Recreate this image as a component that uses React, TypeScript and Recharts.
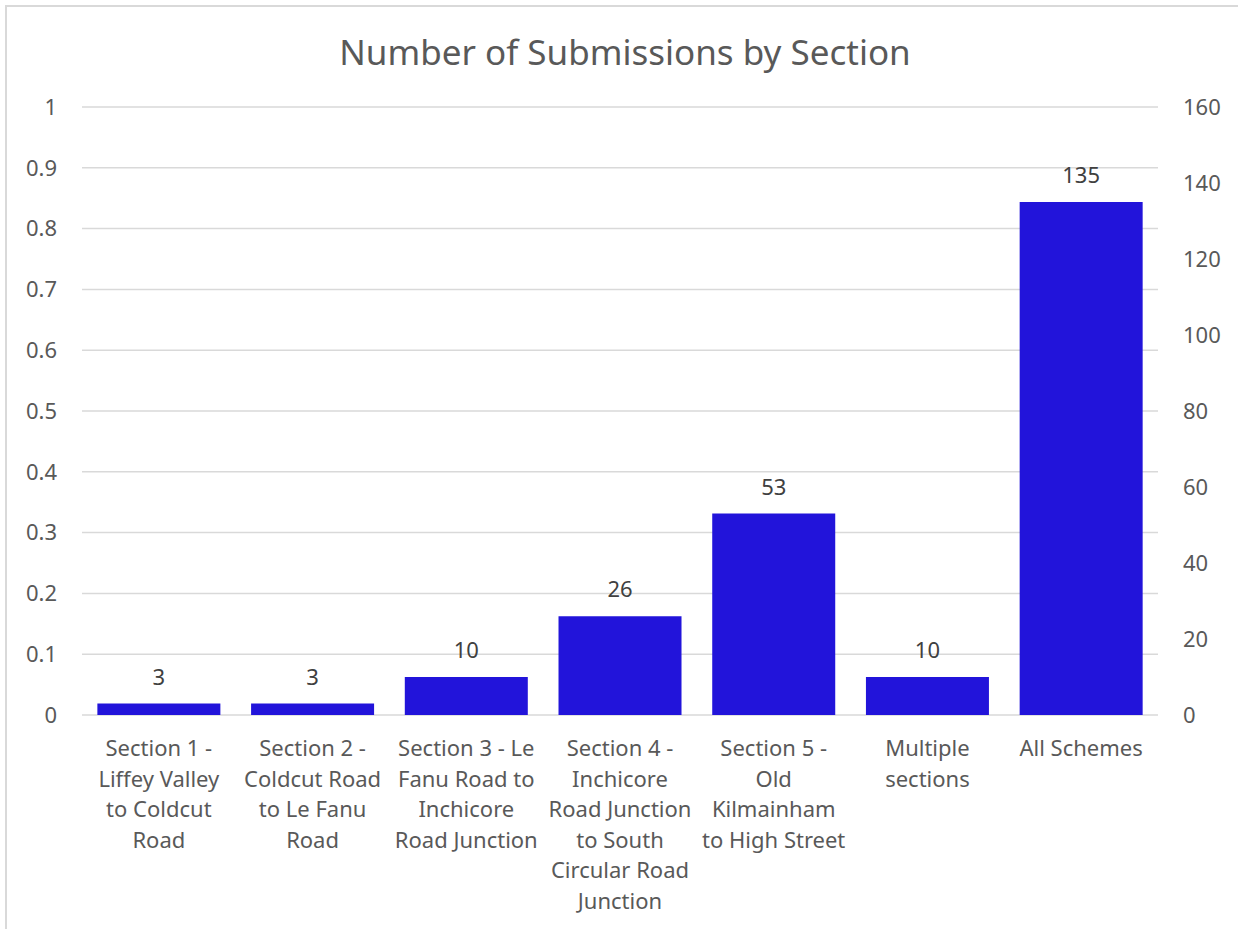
import React from "react";
import { BarChart, Bar, XAxis, YAxis, CartesianGrid, LabelList } from "recharts";

const sections = [
  "Section 1 -\nLiffey Valley\nto Coldcut\nRoad",
  "Section 2 -\nColdcut Road\nto Le Fanu\nRoad",
  "Section 3 - Le\nFanu Road to\nInchicore\nRoad Junction",
  "Section 4 -\nInchicore\nRoad Junction\nto South\nCircular Road\nJunction",
  "Section 5 -\nOld\nKilmainham\nto High Street",
  "Multiple\nsections",
  "All Schemes",
];
const submissions = [3, 3, 10, 26, 53, 10, 135];
const leftTicks = [0, 0.1, 0.2, 0.3, 0.4, 0.5, 0.6, 0.7, 0.8, 0.9, 1];
const rightTicks = [0, 20, 40, 60, 80, 100, 120, 140, 160];

const data = sections.map((s, i) => ({ section: s, count: submissions[i] }));

const FONT = "'Noto Sans', sans-serif";

function SectionTick({ x, y, payload }: any) {
  const lines = String(payload.value).split("\n");
  return (
    <text x={x} y={y} textAnchor="middle" fill="#595959" fontSize={22} fontFamily={FONT}>
      {lines.map((l, i) => (
        <tspan key={i} x={x} dy={i === 0 ? 41 : 30.5}>
          {l}
        </tspan>
      ))}
    </text>
  );
}

export default function App() {
  return (
    <div style={{ position: "fixed", left: 0, top: 0, width: 1238, height: 929, overflow: "hidden", background: "#fff" }}>
      <div
        style={{
          position: "absolute",
          left: 5,
          top: 5,
          width: 1250,
          height: 940,
          border: "2px solid #D9D9D9",
          boxSizing: "border-box",
        }}
      />
      <div
        style={{
          position: "absolute",
          left: 0,
          top: 29,
          width: 1250,
          textAlign: "center",
          fontFamily: FONT,
          fontSize: 35,
          color: "#595959",
          lineHeight: "46px",
        }}
      >
        Number of Submissions by Section
      </div>
      <div style={{ position: "absolute", left: 0, top: 0 }}>
        <BarChart
          width={1238}
          height={929}
          data={data}
          margin={{ top: 107, right: 20, bottom: 0, left: 22 }}
          barCategoryGap="10%"
        >
          <CartesianGrid yAxisId="left" vertical={false} stroke="#D9D9D9" strokeWidth={1.5} />
          <XAxis
            dataKey="section"
            height={214}
            axisLine={false}
            tickLine={false}
            tickSize={0}
            tickMargin={0}
            interval={0}
            tick={<SectionTick />}
          />
          <YAxis
            yAxisId="left"
            orientation="left"
            type="number"
            width={60}
            domain={[0, 1]}
            allowDataOverflow
            ticks={leftTicks}
            interval={0}
            axisLine={false}
            tickLine={false}
            tickSize={0}
            tickMargin={25}
            tick={{ fontSize: 22, fill: "#595959", fontFamily: FONT }}
          />
          <YAxis
            yAxisId="right"
            orientation="right"
            width={60}
            domain={[0, 160]}
            ticks={rightTicks}
            interval={0}
            axisLine={false}
            tickLine={false}
            tickSize={0}
            tickMargin={25}
            tick={{ fontSize: 22, fill: "#595959", fontFamily: FONT }}
          />
          <Bar yAxisId="right" dataKey="count" fill="#2214DA" isAnimationActive={false}>
            <LabelList
              dataKey="count"
              position="top"
              offset={19}
              fill="#404040"
              fontSize={22}
              fontFamily={FONT}
            />
          </Bar>
        </BarChart>
      </div>
    </div>
  );
}
